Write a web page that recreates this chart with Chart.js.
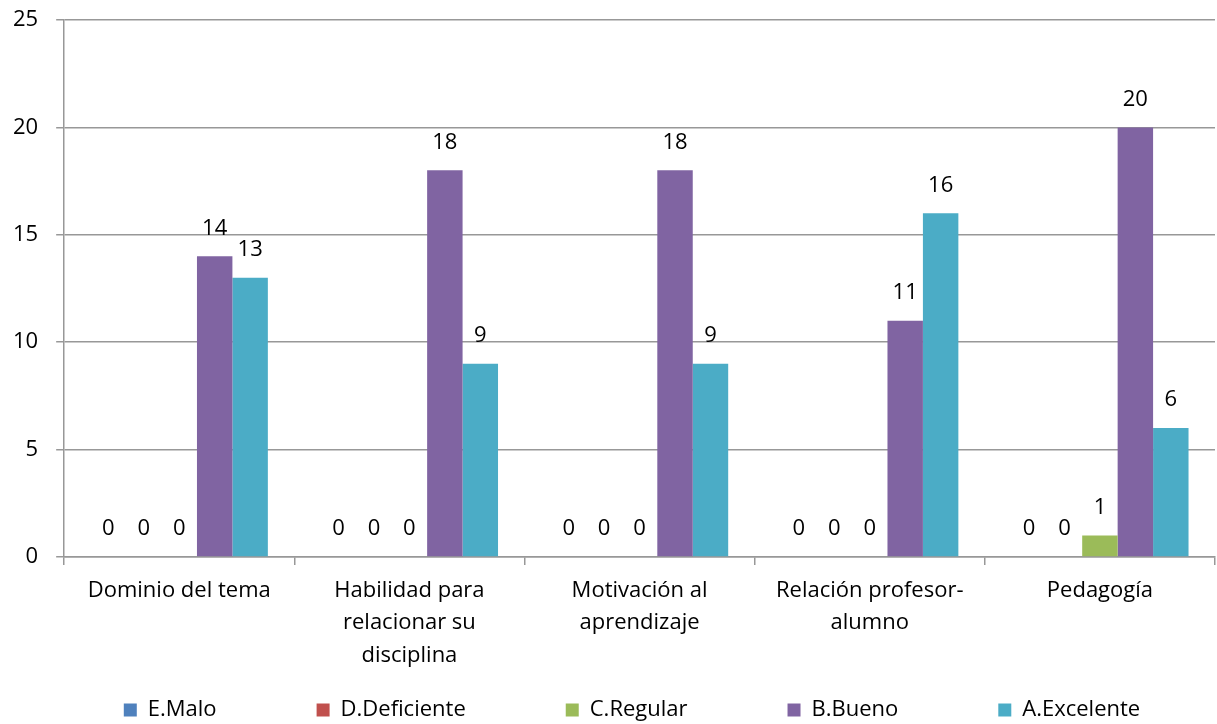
<!DOCTYPE html>
<html>
<head>
<meta charset="utf-8">
<script src="https://cdn.jsdelivr.net/npm/chart.js@4"></script>
<style>
html,body{margin:0;padding:0;background:#fff;}
#wrap{width:1217px;height:724px;position:relative;}
</style>
</head>
<body>
<div id="wrap"><canvas id="c" width="1217" height="724"></canvas></div>
<script>
const categories = [
  "Dominio del tema",
  ["Habilidad para", "relacionar su", "disciplina"],
  ["Motivación al", "aprendizaje"],
  ["Relación profesor-", "alumno"],
  "Pedagogía"
];
const seriesNames = ["E.Malo", "D.Deficiente", "C.Regular", "B.Bueno", "A.Excelente"];
const seriesColors = ["#4F81BD", "#C0504D", "#9BBB59", "#8064A2", "#4BACC6"];
const malo = [0, 0, 0, 0, 0];
const deficiente = [0, 0, 0, 0, 0];
const regular = [0, 0, 0, 0, 1];
const bueno = [14, 18, 18, 11, 20];
const excelente = [13, 9, 9, 16, 6];
const yTicks = [0, 5, 10, 15, 20, 25];

const FONT = "'Open Sans', sans-serif";
const FS = 22;
const LEGEND_PAD = 100;
const seriesValues = [malo, deficiente, regular, bueno, excelente];

const valueLabels = {
  id: 'valueLabels',
  afterDatasetsDraw(chart) {
    const ctx = chart.ctx;
    ctx.save();
    ctx.font = FS + "px " + FONT;
    ctx.fillStyle = "#000";
    ctx.textAlign = "center";
    ctx.textBaseline = "middle";
    chart.data.datasets.forEach((ds, i) => {
      const meta = chart.getDatasetMeta(i);
      meta.data.forEach((bar, j) => {
        ctx.fillText(String(ds.data[j]), bar.x, bar.y - 28);
      });
    });
    ctx.restore();
  }
};

// keep wide horizontal spacing between legend items without a tall legend box
const compactLegend = {
  id: 'compactLegend',
  afterInit(chart) {
    const lg = chart.legend;
    if (!lg || lg._compact) return;
    lg._compact = true;
    const SHIFT = LEGEND_PAD - 11;
    const origFit = lg.fit.bind(lg);
    lg.fit = function () {
      const mw = this.maxWidth;
      this.maxWidth = 100000;
      origFit();
      this.maxWidth = mw;
      this.width = mw;
      this.height = 41;
    };
    const origDraw = lg._draw.bind(lg);
    lg._draw = function () {
      const ctx = this.ctx;
      ctx.save();
      ctx.translate(27, -SHIFT);
      origDraw();
      ctx.restore();
    };
  }
};

new Chart(document.getElementById('c'), {
  type: 'bar',
  data: {
    labels: categories,
    datasets: seriesNames.map((n, i) => ({
      label: n,
      data: seriesValues[i],
      backgroundColor: seriesColors[i],
      borderWidth: 0,
      categoryPercentage: 0.77,
      barPercentage: 1.0
    }))
  },
  options: {
    responsive: false,
    animation: false,
    layout: { padding: { left: -5, right: 2, top: 20, bottom: -5 } },
    plugins: {
      legend: {
        position: 'bottom',
        labels: {
          boxWidth: 13, boxHeight: 13, padding: LEGEND_PAD,
          color: '#000',
          font: { family: FONT, size: FS }
        }
      },
      tooltip: { enabled: false }
    },
    scales: {
      x: {
        afterFit(scale) { scale.height = 131; },
        grid: { offset: true, drawOnChartArea: false, drawTicks: true, tickLength: 8, color: '#989898', lineWidth: 1.5 },
        border: { color: '#989898', width: 1.5 },
        ticks: { color: '#000', font: { family: FONT, size: FS, lineHeight: 1.46 }, maxRotation: 0, autoSkip: false, padding: 10 }
      },
      y: {
        min: 0, max: 25,
        afterBuildTicks(scale) { scale.ticks = yTicks.map(v => ({ value: v })); },
        afterFit(scale) { scale.paddingTop = 0; },
        grid: { color: '#989898', lineWidth: 1.5, tickLength: 8 },
        border: { color: '#989898', width: 1.5 },
        ticks: { color: '#000', font: { family: FONT, size: FS }, padding: 18 }
      }
    }
  },
  plugins: [valueLabels, compactLegend]
});
</script>
</body>
</html>
